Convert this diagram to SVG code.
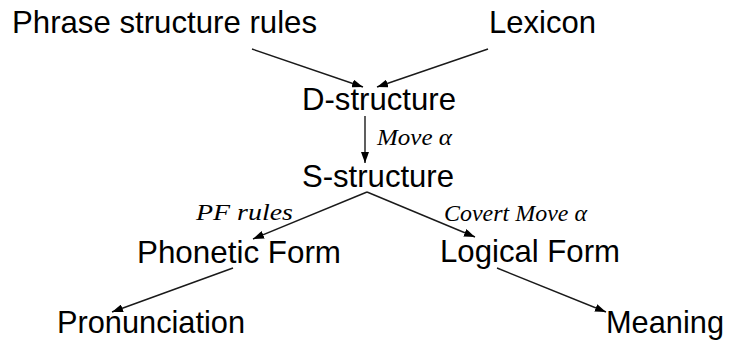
<svg xmlns="http://www.w3.org/2000/svg" width="731" height="344" viewBox="0 0 731 344">
  <style>
    .node { font-family: "Liberation Sans", Arial, sans-serif; font-size: 32px; fill: #000; }
    .label { font-family: "Liberation Serif", "Times New Roman", serif; font-style: italic; font-size: 24px; fill: #000; }
    .edge { stroke: #1a1a1a; stroke-width: 1.4; fill: none; marker-end: url(#arrow); }
  </style>
  <defs>
    <marker id="arrow" markerUnits="userSpaceOnUse" markerWidth="11" markerHeight="8" refX="11" refY="4" orient="auto">
      <path d="M0,0 L11,4 L0,8 Z" fill="#000"/>
    </marker>
  </defs>
  <rect width="731" height="344" fill="#fff"/>

  <g id="connectors">
    <line class="edge" x1="252" y1="49" x2="363" y2="87"/>
    <line class="edge" x1="488" y1="49" x2="377" y2="87"/>
    <line class="edge" x1="365" y1="116" x2="365" y2="163"/>
    <line class="edge" x1="367" y1="192" x2="253" y2="239"/>
    <line class="edge" x1="367" y1="192" x2="475" y2="237"/>
    <line class="edge" x1="233" y1="268" x2="112" y2="312"/>
    <line class="edge" x1="497" y1="268" x2="606" y2="312"/>
    <text class="label" x="377" y="145" textLength="75" lengthAdjust="spacingAndGlyphs">Move α</text>
    <text class="label" x="196" y="220" textLength="97" lengthAdjust="spacingAndGlyphs">PF rules</text>
    <text class="label" x="444" y="221" textLength="143" lengthAdjust="spacingAndGlyphs">Covert Move α</text>
  </g>

  <g id="phrase-structure-rules"><text class="node" x="12" y="33" textLength="305" lengthAdjust="spacingAndGlyphs">Phrase structure rules</text></g>
  <g id="lexicon"><text class="node" x="489" y="33" textLength="107" lengthAdjust="spacingAndGlyphs">Lexicon</text></g>
  <g id="d-structure"><text class="node" x="302" y="110" textLength="154" lengthAdjust="spacingAndGlyphs">D-structure</text></g>
  <g id="s-structure"><text class="node" x="302" y="187" textLength="152" lengthAdjust="spacingAndGlyphs">S-structure</text></g>
  <g id="phonetic-form"><text class="node" x="137" y="263" textLength="204" lengthAdjust="spacingAndGlyphs">Phonetic Form</text></g>
  <g id="logical-form"><text class="node" x="440" y="262" textLength="180" lengthAdjust="spacingAndGlyphs">Logical Form</text></g>
  <g id="pronunciation"><text class="node" x="57" y="333" textLength="188" lengthAdjust="spacingAndGlyphs">Pronunciation</text></g>
  <g id="meaning"><text class="node" x="606" y="333" textLength="118" lengthAdjust="spacingAndGlyphs">Meaning</text></g>
</svg>
